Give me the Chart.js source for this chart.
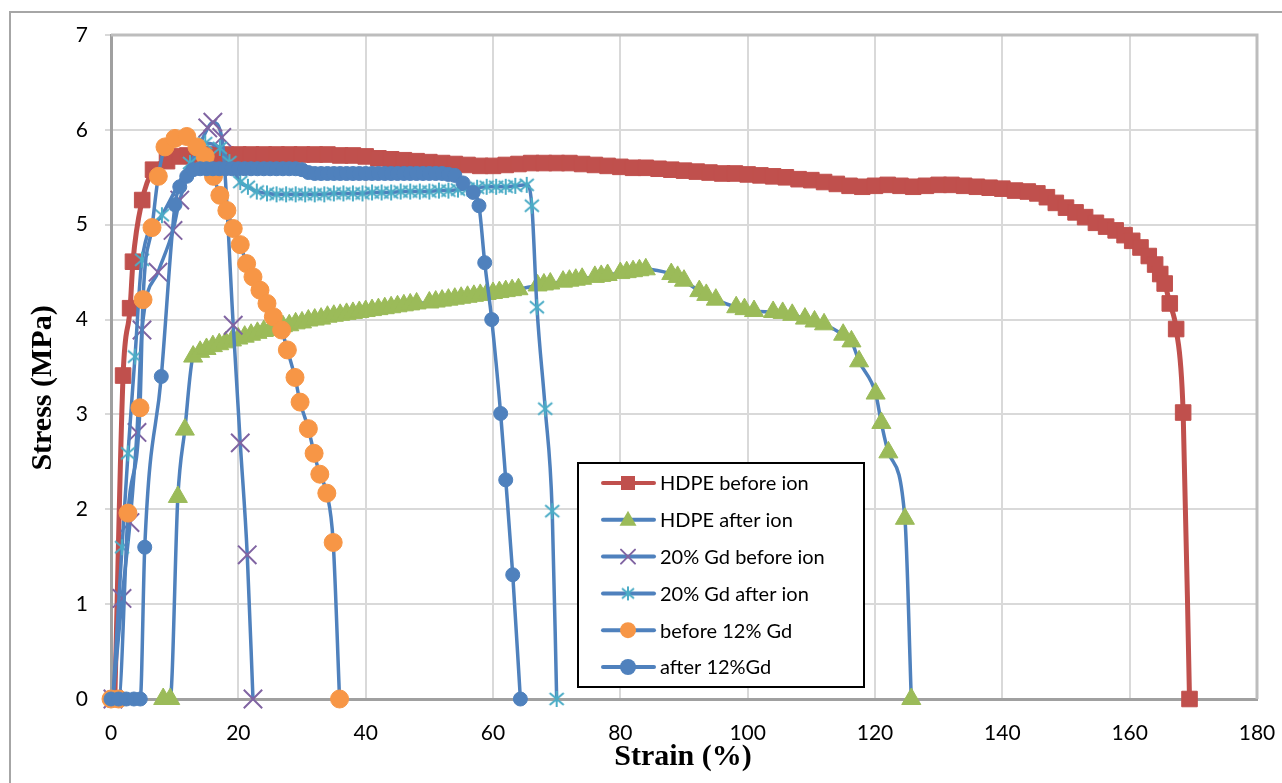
<!DOCTYPE html>
<html>
<head>
<meta charset="utf-8">
<script src="https://cdn.jsdelivr.net/npm/chart.js@4.4.1/dist/chart.umd.min.js"></script>
<style>
  html, body { margin: 0; padding: 0; background: #fff; }
  #wrap { position: relative; width: 1282px; height: 783px; }
</style>
</head>
<body>
<div id="wrap"><canvas id="stressChart" width="1282" height="783"></canvas></div>
<script>
// ---- data (strain %, stress MPa) ----
const seriesNames = ['HDPE before ion', 'HDPE after ion', '20% Gd before ion', '20% Gd after ion', 'before 12% Gd', 'after 12%Gd'];

const xTickValues = [0, 20, 40, 60, 80, 100, 120, 140, 160, 180];
const yTickValues = [0, 1, 2, 3, 4, 5, 6, 7];

const hdpeBeforeX = [0.6, 1.9, 3.0, 3.45, 4.9, 6.6, 8.8, 10.8, 12, 14, 16, 18, 20, 22, 24, 26, 28, 30, 32, 34, 36, 38, 40,
  42, 44, 46, 48, 50, 52, 54, 56, 58, 60, 62, 64, 66, 68, 70, 72, 74, 76, 78, 80, 82, 84, 86, 88, 90, 92, 94, 96, 98, 100,
  102, 104, 106, 108, 110, 112, 114, 116, 118, 120, 122, 124, 126, 128, 130, 132, 134, 136, 138, 140, 142, 144, 145.5,
  147, 148.4, 150, 151.5, 153, 154.7, 156.3, 157.8, 159.2, 160.4, 161.7, 163, 164, 164.8, 165.5, 166.3, 167.3, 168.4, 169.4];
const hdpeBeforeY = [0, 3.41, 4.12, 4.61, 5.26, 5.58, 5.67, 5.72, 5.73, 5.74, 5.74, 5.74, 5.74, 5.74, 5.74, 5.74, 5.74, 5.74, 5.74, 5.74, 5.73, 5.73, 5.72,
  5.70, 5.69, 5.68, 5.67, 5.66, 5.65, 5.64, 5.63, 5.62, 5.62, 5.63, 5.64, 5.65, 5.65, 5.65, 5.65, 5.64, 5.63, 5.62, 5.61, 5.60, 5.60, 5.59, 5.58, 5.57, 5.56, 5.55, 5.54, 5.54, 5.53,
  5.52, 5.51, 5.50, 5.48, 5.47, 5.45, 5.43, 5.41, 5.40, 5.41, 5.42, 5.41, 5.40, 5.41, 5.42, 5.42, 5.41, 5.40, 5.39, 5.38, 5.36, 5.35, 5.33,
  5.29, 5.23, 5.18, 5.13, 5.08, 5.02, 4.98, 4.94, 4.89, 4.83, 4.76, 4.67, 4.58, 4.48, 4.38, 4.17, 3.90, 3.02, 0];

const hdpeAfterX = [8.2, 9.3, 10.5, 11.6, 12.9, 14, 15, 16, 17, 18, 19, 20, 21, 22, 23, 24, 25, 26, 27, 28, 29, 30, 31, 32, 33, 34, 35,
  36, 37, 38, 39, 40, 41, 42, 43, 44, 45, 46, 47, 48, 50, 51, 52, 53, 54, 55, 56, 57, 58, 59, 60, 61, 62, 63, 64,
  67, 68, 69, 71, 72, 73, 74, 76, 77, 78, 80, 81, 82, 83, 84, 88, 89, 90, 92.4, 93.5, 95, 98.2, 99.5, 101, 104, 105.5, 107,
  109, 110.5, 112, 115, 116.3, 117.5, 120.1, 121, 122.1, 124.7, 125.7];
const hdpeAfterY = [0, 0, 2.13, 2.84, 3.61, 3.66, 3.69, 3.72, 3.74, 3.76, 3.78, 3.80, 3.82, 3.84, 3.86, 3.88, 3.89, 3.91, 3.93, 3.94, 3.96, 3.97, 3.99, 4.00, 4.01, 4.03, 4.04,
  4.05, 4.06, 4.07, 4.08, 4.09, 4.10, 4.11, 4.12, 4.13, 4.14, 4.15, 4.16, 4.17, 4.18, 4.19, 4.20, 4.21, 4.22, 4.23, 4.24, 4.25, 4.26, 4.27, 4.28, 4.29, 4.30, 4.31, 4.32,
  4.36, 4.37, 4.38, 4.40, 4.41, 4.42, 4.43, 4.45, 4.46, 4.47, 4.49, 4.50, 4.51, 4.52, 4.53, 4.48, 4.45, 4.41, 4.30, 4.26, 4.21, 4.13, 4.11, 4.09, 4.08, 4.07, 4.05,
  4.01, 3.98, 3.95, 3.84, 3.77, 3.56, 3.22, 2.91, 2.60, 1.90, 0];

const gd20BeforeX = [0.3, 1.73, 2.98, 4.08, 4.87, 7.38, 9.74, 10.8, 15.2, 16.0, 17.4, 19.2, 20.3, 21.4, 22.3];
const gd20BeforeY = [0, 1.06, 1.86, 2.81, 3.89, 4.50, 4.94, 5.26, 6.02, 6.08, 5.92, 3.94, 2.70, 1.52, 0];

const gd20AfterX = [0.3, 1.73, 2.67, 3.77, 4.87, 8.0, 12.4, 14.8, 17.1, 18.6, 20.3, 21.5, 22.9, 24.5, 26, 27.5, 29, 30.5, 32, 33.5,
  35, 36.5, 38, 39.5, 41, 42.5, 44, 45.5, 47, 48.5, 50, 51.5, 53, 54.5, 56, 57.5, 59, 60.5, 62, 63.5, 65.3, 66.1, 66.9, 68.2, 69.3, 70.0];
const gd20AfterY = [0, 1.60, 2.59, 3.61, 4.63, 5.10, 5.65, 5.86, 5.81, 5.66, 5.45, 5.40, 5.35, 5.33, 5.32, 5.32, 5.32, 5.32, 5.32, 5.32,
  5.33, 5.33, 5.33, 5.33, 5.34, 5.34, 5.34, 5.35, 5.35, 5.35, 5.35, 5.36, 5.36, 5.37, 5.38, 5.39, 5.40, 5.40, 5.40, 5.41, 5.42, 5.20, 4.13, 3.06, 1.98, 0];

const gd12BeforeX = [0, 1.2, 2.67, 4.55, 5.03, 6.44, 7.43, 8.48, 10.05, 11.9, 13.5, 14.8, 16.1, 17.1, 18.2, 19.2, 20.3, 21.3, 22.3,
  23.4, 24.5, 25.5, 26.8, 27.7, 28.9, 29.7, 31.0, 31.9, 32.8, 33.9, 34.9, 35.9];
const gd12BeforeY = [0, 0, 1.96, 3.07, 4.21, 4.97, 5.51, 5.82, 5.91, 5.93, 5.82, 5.72, 5.51, 5.31, 5.15, 4.96, 4.79, 4.59, 4.45,
  4.31, 4.17, 4.03, 3.89, 3.68, 3.39, 3.13, 2.85, 2.59, 2.37, 2.17, 1.65, 0];

const gd12AfterX = [0, 1.2, 2.4, 3.6, 4.6, 5.3, 7.9, 10.05, 10.8, 11.9, 12.9, 14, 15, 16, 17, 18, 19, 20, 21, 22, 23, 24, 25, 26, 27, 28, 29,
  30, 31, 32, 33, 34, 35, 36, 37, 38, 39, 40, 41, 42, 43, 44, 45, 46, 47, 48, 49, 50, 51, 52, 53, 54,
  55.3, 56.9, 57.8, 58.7, 59.8, 61.2, 62.0, 63.1, 64.3];
const gd12AfterY = [0, 0, 0, 0, 0, 1.60, 3.40, 5.21, 5.40, 5.51, 5.58, 5.59, 5.59, 5.59, 5.59, 5.59, 5.59, 5.59, 5.59, 5.59, 5.59, 5.59, 5.59, 5.59, 5.59, 5.59, 5.59,
  5.58, 5.55, 5.54, 5.54, 5.54, 5.54, 5.54, 5.54, 5.54, 5.54, 5.54, 5.54, 5.54, 5.54, 5.54, 5.54, 5.54, 5.54, 5.54, 5.54, 5.54, 5.54, 5.54, 5.53, 5.52,
  5.44, 5.34, 5.20, 4.60, 4.00, 3.01, 2.31, 1.31, 0];

// ---- styling ----
const RED = '#C0504D', GREEN = '#9BBB59', PURPLE = '#8064A2', CYAN = '#4BACC6', ORANGE = '#F79646', BLUE = '#4F81BD';

// Excel style asterisk marker: an X plus a vertical stroke
function makeStar(size, color) {
  const c = document.createElement('canvas');
  c.width = size; c.height = size;
  const g = c.getContext('2d');
  g.strokeStyle = color;
  g.lineWidth = 2;
  const m = size / 2;
  g.beginPath();
  g.moveTo(m, 1); g.lineTo(m, size - 1);
  g.moveTo(2, 3); g.lineTo(size - 2, size - 3);
  g.moveTo(size - 2, 3); g.lineTo(2, size - 3);
  g.stroke();
  return c;
}
const starMarker = makeStar(18, CYAN);
const starLegend = makeStar(16, CYAN);

function pts(xs, ys) {
  return xs.map((x, i) => ({ x: x, y: ys[i] }));
}

const styles = [
  { line: RED, color: RED, pointStyle: 'rect', radius: 11, bw: 1 },
  { line: BLUE, color: GREEN, pointStyle: 'triangle', radius: 11, bw: 1 },
  { line: BLUE, color: PURPLE, pointStyle: 'crossRot', radius: 13, bw: 2 },
  { line: BLUE, color: CYAN, pointStyle: starMarker, radius: 9, bw: 2 },
  { line: BLUE, color: ORANGE, pointStyle: 'circle', radius: 9, bw: 1 },
  { line: BLUE, color: BLUE, pointStyle: 'circle', radius: 7, bw: 1 }
];

const allData = [
  pts(hdpeBeforeX, hdpeBeforeY),
  pts(hdpeAfterX, hdpeAfterY),
  pts(gd20BeforeX, gd20BeforeY),
  pts(gd20AfterX, gd20AfterY),
  pts(gd12BeforeX, gd12BeforeY),
  pts(gd12AfterX, gd12AfterY)
];

const datasets = seriesNames.map((name, i) => ({
  label: name,
  data: allData[i],
  showLine: true,
  borderColor: styles[i].line,
  borderWidth: i === 0 ? 5 : 3.5,
  pointStyle: styles[i].pointStyle,
  pointRadius: styles[i].radius,
  pointBackgroundColor: styles[i].color,
  pointBorderColor: styles[i].color,
  pointBorderWidth: styles[i].bw,
  cubicInterpolationMode: 'monotone',
  clip: false,
  order: seriesNames.length - i
}));

// small marker painter for the legend box
function legendMarker(ctx, i, x, y) {
  const s = styles[i];
  ctx.save();
  ctx.fillStyle = s.color;
  ctx.strokeStyle = s.color;
  ctx.lineWidth = s.bw;
  ctx.beginPath();
  if (i === 0) {
    ctx.fillRect(x - 7, y - 7, 14, 14);
  } else if (i === 1) {
    ctx.moveTo(x, y - 9); ctx.lineTo(x + 8.5, y + 6); ctx.lineTo(x - 8.5, y + 6); ctx.closePath(); ctx.fill();
  } else if (i === 2) {
    ctx.moveTo(x - 7, y - 7); ctx.lineTo(x + 7, y + 7);
    ctx.moveTo(x + 7, y - 7); ctx.lineTo(x - 7, y + 7); ctx.stroke();
  } else if (i === 3) {
    ctx.drawImage(starLegend, x - 8, y - 8);
  } else {
    ctx.arc(x, y, 8, 0, Math.PI * 2); ctx.fill();
  }
  ctx.restore();
}

const decorPlugin = {
  id: 'decor',
  beforeDraw(chart) {
    const ctx = chart.ctx;
    ctx.save();
    ctx.fillStyle = '#fff';
    ctx.fillRect(0, 0, chart.width, chart.height);
    ctx.strokeStyle = '#a6a6a6';
    ctx.lineWidth = 2;
    ctx.beginPath();
    ctx.moveTo(10, chart.height); ctx.lineTo(10, 12); ctx.lineTo(chart.width, 12);
    ctx.stroke();
    ctx.restore();
  },
  beforeDatasetsDraw(chart) {
    const a = chart.chartArea, ctx = chart.ctx;
    ctx.save();
    ctx.strokeStyle = '#bdbdbd';
    ctx.lineWidth = 3;
    ctx.beginPath();
    ctx.moveTo(a.left, a.top); ctx.lineTo(a.right, a.top); ctx.lineTo(a.right, a.bottom);
    ctx.stroke();
    ctx.restore();
  },
  afterDatasetsDraw(chart) {
    const ctx = chart.ctx;
    ctx.save();
    // legend box
    ctx.fillStyle = '#fff';
    ctx.fillRect(578, 463, 286, 224);
    ctx.strokeStyle = '#000';
    ctx.lineWidth = 2;
    ctx.strokeRect(578, 463, 286, 224);
    ctx.font = '20px Lato';
    ctx.textBaseline = 'middle';
    seriesNames.forEach((name, i) => {
      const y = 483 + i * 36.8;
      ctx.strokeStyle = styles[i].line;
      ctx.lineWidth = 4;
      ctx.lineCap = 'round';
      ctx.beginPath(); ctx.moveTo(603, y); ctx.lineTo(654, y); ctx.stroke();
      legendMarker(ctx, i, 628, y);
      ctx.fillStyle = '#000';
      ctx.fillText(name, 660, y + 1);
    });
    ctx.restore();
  },
  afterDraw(chart) {
    const ctx = chart.ctx;
    ctx.save();
    ctx.fillStyle = '#000';
    ctx.font = 'bold 30px "Liberation Serif"';
    ctx.textAlign = 'center';
    ctx.textBaseline = 'middle';
    ctx.fillText('Strain (%)', 683, 757);
    ctx.translate(43, 388);
    ctx.rotate(-Math.PI / 2);
    ctx.fillText('Stress (MPa)', 0, 0);
    ctx.restore();
  }
};

new Chart(document.getElementById('stressChart').getContext('2d'), {
  type: 'line',
  data: { datasets: datasets },
  options: {
    responsive: false,
    animation: false,
    layout: { padding: { left: 10, top: 35, right: 25, bottom: 0 } },
    plugins: { legend: { display: false }, tooltip: { enabled: false } },
    scales: {
      x: {
        type: 'linear',
        min: 0,
        max: 180,
        afterFit(scale) { scale.height = 84; scale.paddingRight = 0; scale.paddingLeft = 0; },
        afterBuildTicks(scale) { scale.ticks = xTickValues.map(v => ({ value: v })); },
        grid: { color: '#d9d9d9', lineWidth: 2, drawTicks: false },
        border: { color: '#a0a0a0', width: 3 },
        ticks: { color: '#000', font: { family: 'Lato', size: 21 }, padding: 22, maxRotation: 0, autoSkip: false }
      },
      y: {
        type: 'linear',
        min: 0,
        max: 7,
        afterFit(scale) { scale.width = 101; scale.paddingTop = 0; scale.paddingBottom = 0; },
        afterBuildTicks(scale) { scale.ticks = yTickValues.map(v => ({ value: v })); },
        grid: { color: '#d9d9d9', lineWidth: 2, drawTicks: true, tickLength: 6 },
        border: { color: '#a0a0a0', width: 3 },
        ticks: { color: '#000', font: { family: 'Lato', size: 21 }, padding: 17, autoSkip: false }
      }
    }
  },
  plugins: [decorPlugin]
});
</script>
</body>
</html>
